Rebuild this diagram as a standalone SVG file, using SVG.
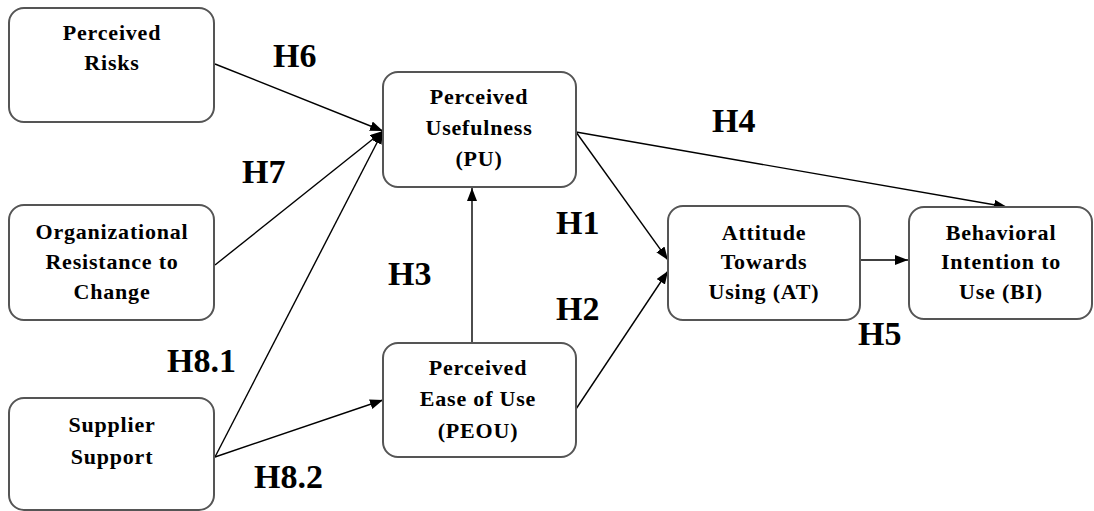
<svg xmlns="http://www.w3.org/2000/svg" width="1094" height="511" viewBox="0 0 1094 511">
<style>
.box{fill:#fff;stroke:#555;stroke-width:2}
.t{font-family:"Liberation Serif","Times New Roman",serif;font-weight:bold;font-size:22px;text-anchor:middle;fill:#000;letter-spacing:0.8px}
.h{font-family:"Liberation Serif","Times New Roman",serif;font-weight:bold;font-size:34px;fill:#000}
.c{stroke:#000;stroke-width:1.4;fill:none;marker-end:url(#arr)}
</style>
<defs>
<marker id="arr" markerUnits="userSpaceOnUse" markerWidth="14" markerHeight="12" refX="13" refY="5" orient="auto">
<path d="M0,0 L13,5 L0,10 z" fill="#000"/>
</marker>
</defs>
<rect width="1094" height="511" fill="#fff"/>
<g id="connectors">
<line class="c" x1="215" y1="64" x2="383" y2="131"/>
<line class="c" x1="215" y1="265" x2="383" y2="131"/>
<line class="c" x1="215" y1="457" x2="383" y2="131"/>
<line class="c" x1="215" y1="457" x2="383" y2="400"/>
<line class="c" x1="472" y1="343" x2="472" y2="188"/>
<line class="c" x1="576" y1="132" x2="668" y2="260"/>
<line class="c" x1="576" y1="409" x2="668" y2="271"/>
<line class="c" x1="576" y1="132" x2="1007" y2="207"/>
<line class="c" x1="860" y1="260" x2="908" y2="260"/>
</g>
<g id="risks">
<rect class="box" x="9" y="8" width="205" height="114" rx="15"/>
<text class="t" x="112" y="40">Perceived</text>
<text class="t" x="112" y="70">Risks</text>
</g>
<g id="org">
<rect class="box" x="9" y="205" width="205" height="115" rx="15"/>
<text class="t" x="112" y="239">Organizational</text>
<text class="t" x="112" y="269">Resistance to</text>
<text class="t" x="112" y="299">Change</text>
</g>
<g id="supplier">
<rect class="box" x="9" y="398" width="205" height="112" rx="15"/>
<text class="t" x="112" y="432">Supplier</text>
<text class="t" x="112" y="464">Support</text>
</g>
<g id="pu">
<rect class="box" x="383" y="72" width="193" height="115" rx="15"/>
<text class="t" x="479" y="104">Perceived</text>
<text class="t" x="479" y="135">Usefulness</text>
<text class="t" x="479" y="166">(PU)</text>
</g>
<g id="peou">
<rect class="box" x="383" y="343" width="193" height="114" rx="15"/>
<text class="t" x="478" y="375">Perceived</text>
<text class="t" x="478" y="406">Ease of Use</text>
<text class="t" x="478" y="438">(PEOU)</text>
</g>
<g id="at">
<rect class="box" x="668" y="206" width="192" height="114" rx="15"/>
<text class="t" x="764" y="240">Attitude</text>
<text class="t" x="764" y="269">Towards</text>
<text class="t" x="764" y="299">Using (AT)</text>
</g>
<g id="bi">
<rect class="box" x="909" y="207" width="183" height="112" rx="15"/>
<text class="t" x="1001" y="240">Behavioral</text>
<text class="t" x="1001" y="269">Intention to</text>
<text class="t" x="1001" y="299">Use (BI)</text>
</g>
<g id="labels">
<text class="h" x="273" y="67">H6</text>
<text class="h" x="242" y="183">H7</text>
<text class="h" x="712" y="132">H4</text>
<text class="h" x="556" y="234">H1</text>
<text class="h" x="388" y="285">H3</text>
<text class="h" x="556" y="320">H2</text>
<text class="h" x="858" y="345">H5</text>
<text class="h" x="167" y="372">H8.1</text>
<text class="h" x="254" y="488">H8.2</text>
</g>
</svg>
